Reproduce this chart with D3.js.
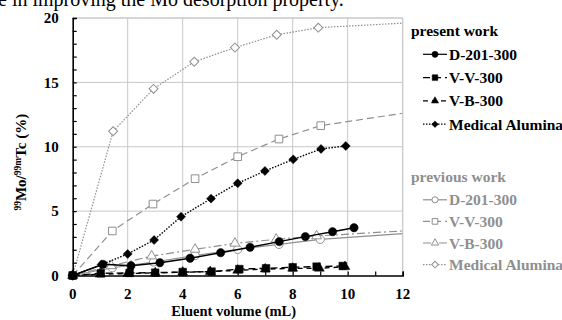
<!DOCTYPE html>
<html>
<head>
<meta charset="utf-8">
<script src="https://cdn.jsdelivr.net/npm/d3@7"></script>
<style>
  body { margin: 0; background: #fff; }
</style>
</head>
<body>
<div id="chart"></div>
<script>
// present work (black)
const presentD201X = [0, 1.1, 2.12, 3.17, 4.27, 5.38, 6.45, 7.51, 8.46, 9.45, 10.23];
const presentD201Y = [0, 0.87, 0.76, 0.99, 1.34, 1.77, 2.19, 2.63, 3.02, 3.4, 3.71];
const presentVVX = [0, 1.02, 2.07, 3.0, 4.0, 5.05, 6.06, 7.03, 8.0, 8.87, 9.82];
const presentVVY = [0, 0.17, 0.2, 0.22, 0.27, 0.3, 0.5, 0.56, 0.64, 0.69, 0.74];
const presentVBX = [0, 1.0, 2.0, 3.0, 4.0, 5.0, 6.0, 7.0, 8.0, 8.97, 9.9];
const presentVBY = [0, 0.1, 0.15, 0.2, 0.25, 0.3, 0.4, 0.5, 0.55, 0.56, 0.68];
const presentMAX = [0, 1.05, 2.0, 2.96, 3.94, 5.03, 6.0, 6.99, 8.02, 9.03, 9.93];
const presentMAY = [0, 0.85, 1.67, 2.76, 4.57, 5.97, 7.16, 8.12, 9.02, 9.83, 10.06];

// previous work (gray), with the end of the fitted line at 12 mL
const previousD201X = [0, 1.44, 2.94, 4.45, 6.0, 7.5, 9.0];
const previousD201Y = [0, 0.6, 1.05, 1.55, 2.03, 2.42, 2.81];
const previousD201End = [12, 3.25];
const previousVVX = [0, 1.44, 2.92, 4.45, 6.0, 7.5, 9.02];
const previousVVY = [0, 3.46, 5.55, 7.52, 9.23, 10.6, 11.64];
const previousVVEnd = [12, 12.6];
const previousVBX = [0, 1.4, 2.87, 4.45, 5.9, 7.4, 8.87];
const previousVBY = [0, 0.75, 1.51, 2.03, 2.5, 2.81, 3.07];
const previousVBEnd = [12, 3.46];
const previousMAX = [0, 1.47, 2.94, 4.42, 5.9, 7.42, 8.93];
const previousMAY = [0, 11.2, 14.5, 16.6, 17.7, 18.7, 19.25];
const previousMAEnd = [12, 19.6];

const legendNames = ['D-201-300', 'V-V-300', 'V-B-300', 'Medical Alumina'];
const xTicks = [0, 2, 4, 6, 8, 10, 12];
const yTicks = [0, 5, 10, 15, 20];

const width = 562, height = 320;
const margin = { left: 72.7, right: 159.3, top: 18, bottom: 44.5 };
const innerW = width - margin.left - margin.right;
const innerH = height - margin.top - margin.bottom;
const serif = '"Liberation Serif", "Times New Roman", serif';

const svg = d3.select('#chart').append('svg')
  .attr('width', width)
  .attr('height', height);

// line of the paper's text above the figure (cut by the crop, as in the source)
svg.append('text')
  .attr('x', -2).attr('y', 6)
  .attr('font-family', serif)
  .attr('font-size', 20)
  .text('e in improving the Mo desorption property.');

const g = svg.append('g').attr('transform', `translate(${margin.left},${margin.top})`);

const x = d3.scaleLinear().domain([0, 12]).range([0, innerW]);
const y = d3.scaleLinear().domain([0, 20]).range([innerH, 0]);

// grid
const gridColor = '#c8c8c8';
g.selectAll('.vgrid').data(xTicks.slice(1)).join('line')
  .attr('x1', d => x(d)).attr('x2', d => x(d))
  .attr('y1', 0).attr('y2', innerH)
  .attr('stroke', gridColor);
g.selectAll('.hgrid').data(yTicks.slice(1)).join('line')
  .attr('x1', 0).attr('x2', innerW)
  .attr('y1', d => y(d)).attr('y2', d => y(d))
  .attr('stroke', gridColor);

const bold = sel => sel.attr('font-family', serif).attr('font-weight', 'bold')
  .attr('font-size', 15).attr('fill', '#000');

const lineGen = d3.line().x(d => x(d[0])).y(d => y(d[1]));

const zip = (xs, ys) => xs.map((v, i) => [v, ys[i]]);

const gray = '#8f8f8f';
const series = [
  { pts: zip(previousD201X, previousD201Y), end: previousD201End, color: gray, dash: null, shape: 'circle', open: true },
  { pts: zip(previousVVX, previousVVY), end: previousVVEnd, color: gray, dash: '7,4', shape: 'square', open: true },
  { pts: zip(previousVBX, previousVBY), end: previousVBEnd, color: gray, dash: '8,3,2,3', shape: 'triangle', open: true },
  { pts: zip(previousMAX, previousMAY), end: previousMAEnd, color: gray, dash: '1.5,1.5', shape: 'diamond', open: true },
  { pts: zip(presentVVX, presentVVY), color: '#000', dash: '7,4', shape: 'square', open: false },
  { pts: zip(presentVBX, presentVBY), color: '#000', dash: '5,4', shape: 'triangle', open: false },
  { pts: zip(presentMAX, presentMAY), color: '#000', dash: '1.5,1.5', shape: 'diamond', open: false },
  { pts: zip(presentD201X, presentD201Y), color: '#000', dash: null, shape: 'circle', open: false }
];

const symbolFor = {
  circle: [d3.symbolCircle, 54, 0],
  square: [d3.symbolSquare, 58, 0],
  triangle: [d3.symbolTriangle, 42, 0],
  diamond: [d3.symbolSquare, 40, 45]
};

function drawMarker(sel, s, small, cx, cy) {
  const [type, size, rot] = symbolFor[s.shape];
  sel.attr('d', d3.symbol().type(type).size(small ? size * 0.55 : size))
    .attr('transform', `translate(${cx},${cy}) rotate(${rot})`)
    .attr('fill', s.open ? '#fff' : s.color)
    .attr('stroke', s.color)
    .attr('stroke-width', s.open ? 1 : 0.5);
}

series.forEach(s => {
  const linePts = s.end ? s.pts.concat([s.end]) : s.pts;
  g.append('path')
    .datum(linePts)
    .attr('d', lineGen)
    .attr('fill', 'none')
    .attr('stroke', s.color)
    .attr('stroke-width', s.open ? 1.2 : 1.4)
    .attr('stroke-dasharray', s.dash);
  g.selectAll(null).data(s.pts).join('path')
    .each(function (d) { drawMarker(d3.select(this), s, false, x(d[0]), y(d[1])); });
});

// plot frame (top / right gray)
g.append('line').attr('x1', 0).attr('x2', innerW).attr('y1', 0).attr('y2', 0).attr('stroke', gridColor);
g.append('line').attr('x1', innerW).attr('x2', innerW).attr('y1', 0).attr('y2', innerH).attr('stroke', gridColor);

// axes with inward minor ticks
const xAxis = g.append('g').attr('transform', `translate(0,${innerH})`)
  .call(d3.axisBottom(x).tickValues(d3.range(0, 13, 1)).tickSize(-4).tickFormat(''));
const yAxis = g.append('g')
  .call(d3.axisLeft(y).tickValues(d3.range(0, 21, 1)).tickSize(-4).tickFormat(''));
[xAxis, yAxis].forEach(a => {
  a.select('.domain').attr('stroke', '#000').attr('stroke-width', 1.6);
  a.selectAll('.tick line').attr('stroke', '#000').attr('stroke-width', 1.2);
});

g.selectAll('.xlab').data(xTicks).join('text')
  .attr('x', d => x(d)).attr('y', innerH + 23.5)
  .attr('text-anchor', 'middle')
  .call(bold)
  .text(d => d);
g.selectAll('.ylab').data(yTicks).join('text')
  .attr('x', -14).attr('y', d => y(d) + 5.3)
  .attr('text-anchor', 'end')
  .call(bold)
  .text(d => d);

svg.append('text')
  .attr('x', margin.left + x(6) - 4).attr('y', 316)
  .attr('text-anchor', 'middle')
  .call(bold)
  .attr('font-size', 14.5)
  .text('Eluent volume (mL)');

const yTitle = svg.append('text')
  .attr('transform', `translate(26,${margin.top + y(8.8)}) rotate(-90)`)
  .attr('text-anchor', 'middle')
  .call(bold);
yTitle.append('tspan').attr('font-size', 9.5).attr('dy', -5).text('99');
yTitle.append('tspan').attr('dy', 5).text('Mo/');
yTitle.append('tspan').attr('font-size', 9.5).attr('dy', -5).text('99m');
yTitle.append('tspan').attr('dy', 5).text('Tc (%)');

// legends
function legend(title, color, items, top, step) {
  const lg = svg.append('g');
  lg.append('text')
    .attr('x', 411).attr('y', top)
    .call(bold).attr('font-size', 15.5).attr('fill', color)
    .text(title);
  items.forEach((s, i) => {
    const cy = top + 18.3 + i * step;
    lg.append('line')
      .attr('x1', 423).attr('x2', 447).attr('y1', cy).attr('y2', cy)
      .attr('stroke', s.color).attr('stroke-width', 1.2)
      .attr('stroke-dasharray', s.dash);
    lg.append('path')
      .each(function () { drawMarker(d3.select(this), s, true, 435, cy); });
    lg.append('text')
      .attr('x', 449).attr('y', cy + 5.5)
      .call(bold).attr('font-size', 15.5).attr('fill', color)
      .text(legendNames[i]);
  });
}
legend('present work', '#000', [series[7], series[4], series[5], series[6]], 36, 23.3);
legend('previous work', gray, series.slice(0, 4), 181.5, 21.6);
</script>
</body>
</html>
